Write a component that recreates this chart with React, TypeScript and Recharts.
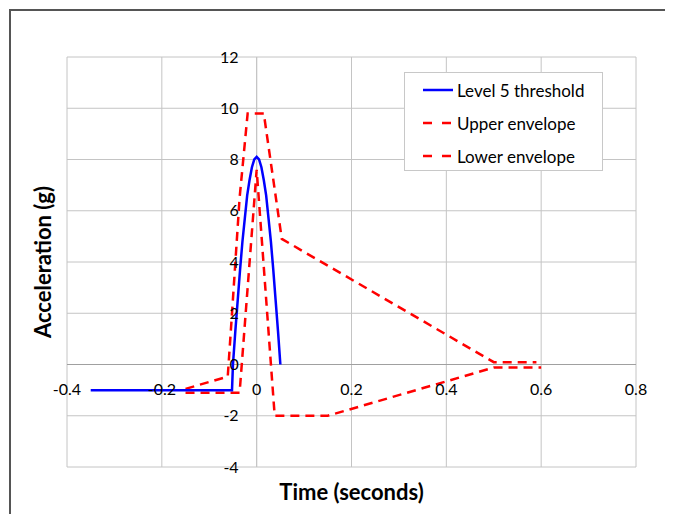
import React from "react";
import {
  CartesianGrid,
  Line,
  LineChart,
  ReferenceLine,
  XAxis,
  YAxis,
} from "recharts";

// time (s) / acceleration (g)
const levelTime = [
  -0.35, -0.052, -0.05, -0.045, -0.04, -0.035, -0.03, -0.025, -0.02, -0.015,
  -0.01, -0.005, 0, 0.005, 0.01, 0.015, 0.02, 0.025, 0.03, 0.035, 0.04,
  0.045, 0.05,
];
const levelAccel = [
  -1, -1, 0, 1.3, 2.5, 3.7, 4.8, 5.7, 6.6, 7.2, 7.7, 8.0, 8.1, 8.0, 7.7,
  7.2, 6.6, 5.7, 4.8, 3.7, 2.5, 1.3, 0,
];

const upperTime = [-0.15, -0.061, -0.052, -0.036, -0.019, 0.015, 0.053, 0.5, 0.59];
const upperAccel = [-0.95, -0.47, 2, 6.5, 9.8, 9.8, 4.9, 0.09, 0.09];

const lowerTime = [-0.15, -0.036, 0, 0.038, 0.15, 0.5, 0.6];
const lowerAccel = [-1.1, -1.1, 7.6, -2, -2, -0.12, -0.12];

const xTicks = [-0.4, -0.2, 0, 0.2, 0.4, 0.6, 0.8];
const yTicks = [-4, -2, 0, 2, 4, 6, 8, 10, 12];

const seriesNames = ["Level 5 threshold", "Upper envelope", "Lower envelope"];

const toPoints = (xs: number[], ys: number[]) =>
  xs.map((x, i) => ({ x, y: ys[i] }));

const levelData = toPoints(levelTime, levelAccel);
const upperData = toPoints(upperTime, upperAccel);
const lowerData = toPoints(lowerTime, lowerAccel);

const W = 665;
const H = 506;
const margin = { top: 49, right: 37, bottom: 46, left: 58 };
const axisSize = 1;
const plotLeft = margin.left + axisSize;
const plotW = W - plotLeft - margin.right;
const plotH = H - margin.top - margin.bottom - axisSize;
const xMin = -0.4;
const xMax = 0.8;
const yMin = -4;
const yMax = 12;
// where the axes cross (value 0 on each)
const zeroX = plotLeft + (plotW * (0 - xMin)) / (xMax - xMin);
const zeroY = margin.top + (plotH * (yMax - 0)) / (yMax - yMin);

const font = "Lato, Calibri, 'Open Sans', sans-serif";

const renderXTick = (props: any) => (
  <text
    x={props.x}
    y={zeroY + 25}
    dy="0.35em"
    textAnchor="middle"
    style={{ textAnchor: "middle" }}
    fontSize={16}
    fontFamily={font}
    fill="#000"
  >
    {props.payload.value}
  </text>
);

const renderYTick = (props: any) => (
  <text
    x={zeroX - 18}
    y={props.y}
    dy="0.35em"
    textAnchor="end"
    style={{ textAnchor: "end" }}
    fontSize={16}
    fontFamily={font}
    fill="#000"
  >
    {props.payload.value}
  </text>
);

const LegendBox = () => (
  <div
    style={{
      position: "absolute",
      left: 396,
      top: 64,
      width: 199,
      height: 99,
      boxSizing: "border-box",
      border: "1px solid #c8c8c8",
      background: "#fff",
      fontFamily: font,
      fontSize: 17,
      color: "#000",
    }}
  >
    {seriesNames.map((name, i) => (
      <div
        key={name}
        style={{
          position: "absolute",
          left: 17,
          top: 6 + i * 33,
          height: 22,
          display: "flex",
          alignItems: "center",
          whiteSpace: "nowrap",
        }}
      >
        <svg width={32} height={6} style={{ marginRight: 3 }}>
          <line
            x1={1}
            y1={3}
            x2={31}
            y2={3}
            stroke={i === 0 ? "#0000ff" : "#ff0000"}
            strokeWidth={2.5}
            strokeDasharray={i === 0 ? undefined : "9 10"}
          />
        </svg>
        {name}
      </div>
    ))}
  </div>
);

export default function App() {
  return (
    <div style={{ position: "relative", width: W, height: H }}>
      <div
        style={{
          position: "absolute",
          left: 1,
          top: 1,
          width: W,
          height: H,
          borderLeft: "2px solid #555",
          borderTop: "2px solid #555",
        }}
      />
      <LineChart width={W} height={H} margin={margin}>
        <CartesianGrid stroke="#c4c4c4" strokeWidth={1} />
        <XAxis
          type="number"
          dataKey="x"
          domain={[xMin, xMax]}
          ticks={xTicks}
          height={axisSize}
          axisLine={false}
          tickLine={false}
          tick={renderXTick}
          allowDuplicatedCategory={false}
        />
        <YAxis
          type="number"
          dataKey="y"
          domain={[yMin, yMax]}
          ticks={yTicks}
          width={axisSize}
          axisLine={false}
          tickLine={false}
          tick={renderYTick}
        />
        <ReferenceLine x={0} stroke="#c4c4c4" />
        <ReferenceLine y={0} stroke="#a0a0a0" />
        <Line
          data={upperData}
          dataKey="y"
          name={seriesNames[1]}
          stroke="#ff0000"
          strokeWidth={2.5}
          strokeDasharray="9 6"
          dot={false}
          type="linear"
          isAnimationActive={false}
        />
        <Line
          data={lowerData}
          dataKey="y"
          name={seriesNames[2]}
          stroke="#ff0000"
          strokeWidth={2.5}
          strokeDasharray="9 6"
          dot={false}
          type="linear"
          isAnimationActive={false}
        />
        <Line
          data={levelData}
          dataKey="y"
          name={seriesNames[0]}
          stroke="#0000ff"
          strokeWidth={2.5}
          dot={false}
          type="linear"
          isAnimationActive={false}
        />
      </LineChart>
      <LegendBox />
      <div
        style={{
          position: "absolute",
          left: plotLeft,
          width: plotW,
          top: 470,
          textAlign: "center",
          fontFamily: font,
          fontWeight: 700,
          fontSize: 22,
          color: "#000",
        }}
      >
        Time (seconds)
      </div>
      <div
        style={{
          position: "absolute",
          left: 35 - 100,
          top: margin.top + plotH / 2 - 13,
          width: 200,
          height: 26,
          lineHeight: "26px",
          textAlign: "center",
          transform: "rotate(-90deg)",
          fontFamily: font,
          fontWeight: 700,
          fontSize: 22,
          color: "#000",
        }}
      >
        Acceleration (g)
      </div>
    </div>
  );
}
